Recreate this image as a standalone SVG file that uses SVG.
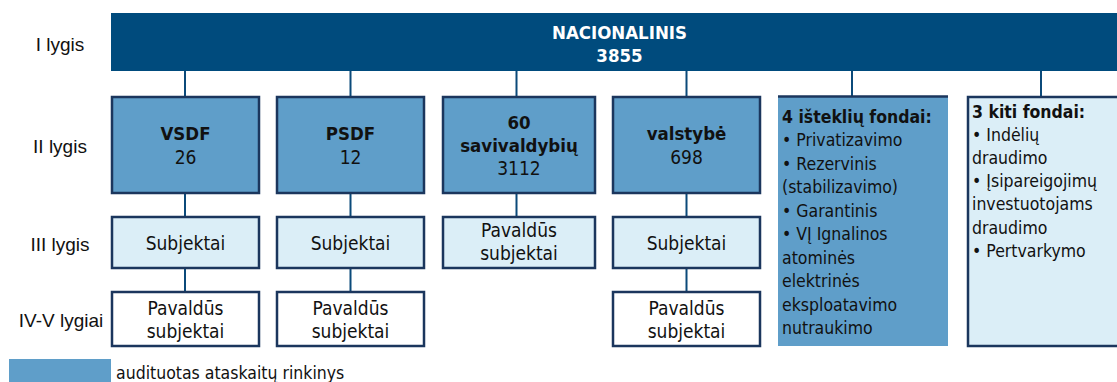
<svg xmlns="http://www.w3.org/2000/svg" width="1117" height="382" viewBox="0 0 1117 382">
<style>
.t{font-family:"DejaVu Sans Condensed","DejaVu Sans",sans-serif;font-stretch:condensed;font-size:19px;fill:#111;text-anchor:middle}
.b{font-weight:bold;font-size:18.5px}
.s{font-size:17.5px;text-anchor:start}
.lab{font-family:"Liberation Sans",Arial,sans-serif;font-size:19px;fill:#111;text-anchor:middle}
.l2{fill:#5f9ec9;stroke:#1b365d;stroke-width:2.5}
.l3{fill:#dbeef7;stroke:#1b365d;stroke-width:2.5}
.l4{fill:#ffffff;stroke:#1b365d;stroke-width:2.5}
.c{stroke:#0b4a7a;stroke-width:2;fill:none}
</style>
<rect width="1117" height="382" fill="#ffffff"/>
<g id="labels">
<text class="lab" x="60" y="51">I lygis</text>
<text class="lab" x="60" y="153">II lygis</text>
<text class="lab" x="60" y="251">III lygis</text>
<text class="lab" x="61" y="327">IV-V lygiai</text>
</g>
<g id="connectors">
<path class="c" d="M185 70V97M185 193V217M185 268V292"/>
<path class="c" d="M350.5 70V97M350.5 193V217M350.5 268V292"/>
<path class="c" d="M516.5 70V97M516.5 193V217"/>
<path class="c" d="M686.5 70V97M686.5 193V217M686.5 268V292"/>
<path class="c" d="M852 70V96"/>
<path class="c" d="M1041 70V97"/>
</g>
<g id="nacionalinis">
<rect x="111" y="13" width="1006" height="58" fill="#004b7d"/>
<text class="t b" x="619.5" y="39" style="fill:#fff">NACIONALINIS</text>
<text class="t b" x="619.5" y="62" style="fill:#fff">3855</text>
</g>
<g id="vsdf">
<rect class="l2" x="112" y="97" width="147" height="96"/>
<text class="t b" x="185.5" y="140">VSDF</text>
<text class="t" x="185.5" y="164">26</text>
</g>
<g id="psdf">
<rect class="l2" x="277" y="97" width="147" height="96"/>
<text class="t b" x="350.5" y="140">PSDF</text>
<text class="t" x="350.5" y="164">12</text>
</g>
<g id="savivaldybes">
<rect class="l2" x="443" y="97" width="152" height="96"/>
<text class="t b" x="519" y="128.5">60</text>
<text class="t b" x="519" y="151.5">savivaldybių</text>
<text class="t" x="519" y="175">3112</text>
</g>
<g id="valstybe">
<rect class="l2" x="613" y="97" width="147" height="96"/>
<text class="t b" x="686.5" y="140">valstybė</text>
<text class="t" x="686.5" y="164">698</text>
</g>
<g id="istekliu-fondai">
<rect x="778" y="96" width="170" height="250" fill="#5f9ec9"/>
<line x1="778" y1="96.5" x2="948" y2="96.5" stroke="#1b365d" stroke-width="2.5"/>
<text class="t s b" x="782" y="122.5">4 išteklių fondai:</text>
<text class="t s" x="782" y="146">• Privatizavimo</text>
<text class="t s" x="782" y="169.5">• Rezervinis</text>
<text class="t s" x="782" y="193">(stabilizavimo)</text>
<text class="t s" x="782" y="216.5">• Garantinis</text>
<text class="t s" x="782" y="240">• VĮ Ignalinos</text>
<text class="t s" x="782" y="263.5">atominės</text>
<text class="t s" x="782" y="287">elektrinės</text>
<text class="t s" x="782" y="310.5">eksploatavimo</text>
<text class="t s" x="782" y="334">nutraukimo</text>
</g>
<g id="kiti-fondai">
<rect x="968" y="97" width="160" height="249" fill="#dbeef7" stroke="#1b365d" stroke-width="2.5"/>
<text class="t s b" x="972" y="117.5">3 kiti fondai:</text>
<text class="t s" x="972" y="140.5">• Indėlių</text>
<text class="t s" x="972" y="163.5">draudimo</text>
<text class="t s" x="972" y="187">• Įsipareigojimų</text>
<text class="t s" x="972" y="210">investuotojams</text>
<text class="t s" x="972" y="233.5">draudimo</text>
<text class="t s" x="972" y="257">• Pertvarkymo</text>
</g>
<g id="vsdf-subjektai">
<rect class="l3" x="112" y="217" width="147" height="51"/>
<text class="t" x="185.5" y="250">Subjektai</text>
</g>
<g id="psdf-subjektai">
<rect class="l3" x="277" y="217" width="147" height="51"/>
<text class="t" x="350.5" y="250">Subjektai</text>
</g>
<g id="savivaldybes-pavaldus">
<rect class="l3" x="443" y="217" width="152" height="51"/>
<text class="t" x="519" y="237">Pavaldūs</text>
<text class="t" x="519" y="260">subjektai</text>
</g>
<g id="valstybe-subjektai">
<rect class="l3" x="613" y="217" width="147" height="51"/>
<text class="t" x="686.5" y="250">Subjektai</text>
</g>
<g id="vsdf-pavaldus">
<rect class="l4" x="112" y="292" width="147" height="54"/>
<text class="t" x="185.5" y="315">Pavaldūs</text>
<text class="t" x="185.5" y="338">subjektai</text>
</g>
<g id="psdf-pavaldus">
<rect class="l4" x="277" y="292" width="147" height="54"/>
<text class="t" x="350.5" y="315">Pavaldūs</text>
<text class="t" x="350.5" y="338">subjektai</text>
</g>
<g id="valstybe-pavaldus">
<rect class="l4" x="613" y="292" width="147" height="54"/>
<text class="t" x="686.5" y="315">Pavaldūs</text>
<text class="t" x="686.5" y="338">subjektai</text>
</g>
<g id="legend">
<rect x="9" y="359" width="102" height="30" fill="#5f9ec9"/>
<text class="t s" x="116" y="379">audituotas ataskaitų rinkinys</text>
</g>
</svg>
